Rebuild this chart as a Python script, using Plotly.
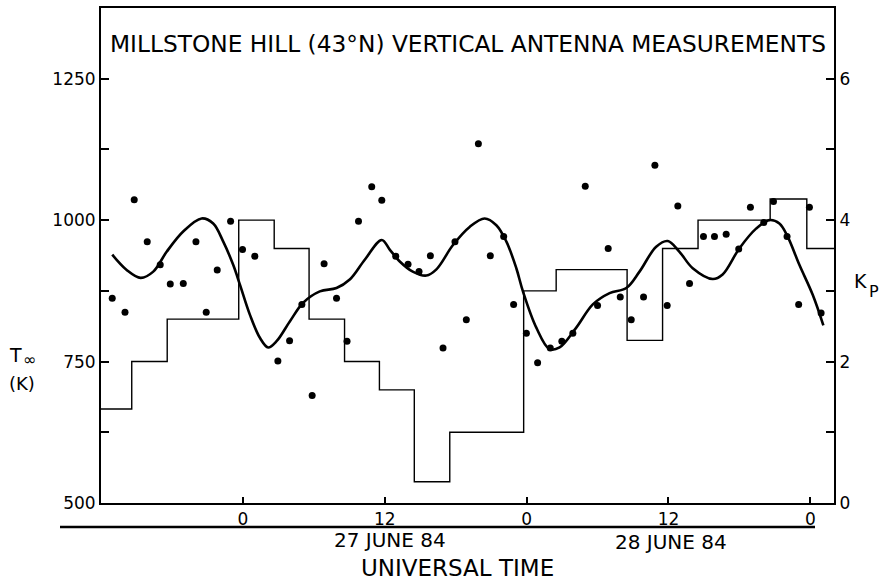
import plotly.graph_objects as go

# ---- data (hours UT relative to 27 June 84 00 UT) ----
dot_hours = [-11.05, -9.97, -9.19, -8.09, -6.99, -6.14, -5.04, -3.97, -3.10, -2.17, -1.04, -0.03,
             1.01, 2.96, 3.95, 4.99, 5.86, 6.87, 7.92, 8.81, 9.78, 10.90, 11.75, 12.93,
             13.97, 14.90, 15.86, 16.93, 17.94, 18.90, 19.92, 20.93, 22.06, 22.90, 23.98, 24.93,
             26.00, 26.98, 27.91, 28.96, 30.00, 30.90, 31.92, 32.85, 33.89, 34.85, 35.89, 36.79,
             37.78, 38.96, 39.89, 40.88, 41.94, 42.93, 44.06, 44.88, 46.03, 47.01, 47.92, 48.91]
dot_temp = [862, 837, 1036, 962, 921, 887, 888, 962, 837, 912, 998, 948,
            936, 751, 787, 851, 690, 923, 862, 786, 998, 1059, 1035, 936,
            922, 909, 937, 774, 962, 824, 1135, 937, 971, 851, 800, 748,
            774, 786, 800, 1060, 849, 950, 864, 824, 864, 1097, 849, 1025,
            888, 971, 971, 975, 949, 1023, 996, 1033, 971, 851, 1023, 836]

curve_hours = [-11.05, -9.83, -8.65, -7.58, -6.45, -5.05, -3.49, -2.51, -1.66, -0.82, -0.25,
               0.59, 1.44, 2.14, 2.85, 3.97, 5.10, 6.51, 7.92, 9.04, 10.31, 11.75, 12.42,
               13.27, 14.37, 15.52, 16.37, 17.77, 19.18, 20.45, 21.44, 22.29, 23.13, 23.69,
               24.82, 25.94, 26.79, 28.20, 29.60, 31.02, 32.43, 33.55, 34.96, 35.94, 36.93,
               38.05, 39.74, 40.58, 41.99, 43.41, 44.54, 45.38, 46.08, 47.07, 48.20, 49.10]
curve_temp = [939, 912, 898, 909, 944, 980, 1003, 994, 962, 921, 886,
              833, 792, 775, 786, 821, 854, 874, 880, 895, 930, 965, 948,
              927, 909, 902, 913, 956, 988, 1003, 991, 962, 915, 874,
              810, 772, 775, 810, 851, 871, 880, 909, 953, 963, 944,
              915, 896, 904, 950, 985, 1000, 994, 971, 921, 868, 814]

kp_start = [-12, -9.4, -6.4, -3.4, -0.35, 2.65, 5.6, 8.6, 11.55, 14.5, 17.5, 20.5,
            23.75, 26.5, 29.5, 32.5, 35.5, 38.5, 41.5, 44.6, 47.7, 50]
kp_value = [1.33, 2.0, 2.6, 2.6, 4.0, 3.6, 2.6, 2.0, 1.6, 0.3, 1.0, 1.0,
            3.0, 3.3, 3.3, 2.3, 3.6, 4.0, 4.0, 4.3, 3.6, 3.6]

x_tick_vals = [0, 12, 24, 36, 48]
x_tick_text = ["0", "12", "0", "12", "0"]
t_tick_vals = [500, 750, 1000, 1250]
kp_tick_vals = [0, 2, 4, 6]

FONT = "DejaVu Sans"
W, H = 882, 582
ML, MR, MT, MB = 101, 48, 6, 79
PW, PH = W - ML - MR, H - MT - MB


def px(xp):
    return (xp - ML) / PW


def py(yp):
    return (H - MB - yp) / PH


fig = go.Figure()
fig.add_trace(go.Scatter(x=kp_start, y=kp_value, mode="lines", line=dict(shape="hv", color="black", width=1.4),
                         yaxis="y2", hoverinfo="skip", showlegend=False))
fig.add_trace(go.Scatter(x=curve_hours, y=curve_temp, mode="lines",
                         line=dict(shape="spline", smoothing=1.0, color="black", width=2.6),
                         showlegend=False))
fig.add_trace(go.Scatter(x=dot_hours, y=dot_temp, mode="markers",
                         marker=dict(color="black", size=7), showlegend=False))

axis_common = dict(showgrid=False, zeroline=False, showline=True, linecolor="black", linewidth=2,
                   ticks="inside", tickcolor="black", tickwidth=1.5,
                   tickfont=dict(family=FONT, size=17, color="black"))

fig.update_layout(
    width=W, height=H, autosize=False,
    margin=dict(l=ML, r=MR, t=MT, b=MB),
    paper_bgcolor="white", plot_bgcolor="white",
    xaxis=dict(range=[-12, 50], tickvals=x_tick_vals, ticktext=x_tick_text, ticklen=6, mirror=True,
               **axis_common),
    yaxis=dict(range=[500, 1375], tickvals=t_tick_vals, ticklen=8,
               minor=dict(tick0=500, dtick=125, ticks="inside", ticklen=8, tickwidth=1.5, tickcolor="black",
                          showgrid=False),
               **axis_common),
    yaxis2=dict(range=[0, 7], tickvals=kp_tick_vals, ticklen=8, overlaying="y", side="right",
                minor=dict(tick0=0, dtick=1, ticks="inside", ticklen=8, tickwidth=1.5, tickcolor="black",
                           showgrid=False),
                **axis_common),
    showlegend=False,
)

ann = [
    dict(text="MILLSTONE HILL (43°N) VERTICAL ANTENNA MEASUREMENTS", x=px(468), y=py(42), size=23.3),
    dict(text="27 JUNE 84", x=px(390), y=py(540), size=20),
    dict(text="28 JUNE 84", x=px(671), y=py(542), size=20),
    dict(text="UNIVERSAL TIME", x=px(457), y=py(568), size=23),
    dict(text="T", x=px(15), y=py(354), size=19),
    dict(text="∞", x=px(29), y=py(359), size=16),
    dict(text="(K)", x=px(22), y=py(383), size=18),
    dict(text="K", x=px(860), y=py(280), size=19),
    dict(text="P", x=px(874), y=py(291), size=16),
]
for a in ann:
    fig.add_annotation(text=a["text"], x=a["x"], y=a["y"], xref="paper", yref="paper",
                       xanchor="center", yanchor="middle", showarrow=False,
                       font=dict(family=FONT, size=a["size"], color="black"))

fig.add_shape(type="line", xref="paper", yref="paper", x0=px(60), x1=px(815), y0=py(527), y1=py(527),
              line=dict(color="black", width=2.5))

fig.write_html("out.html")
